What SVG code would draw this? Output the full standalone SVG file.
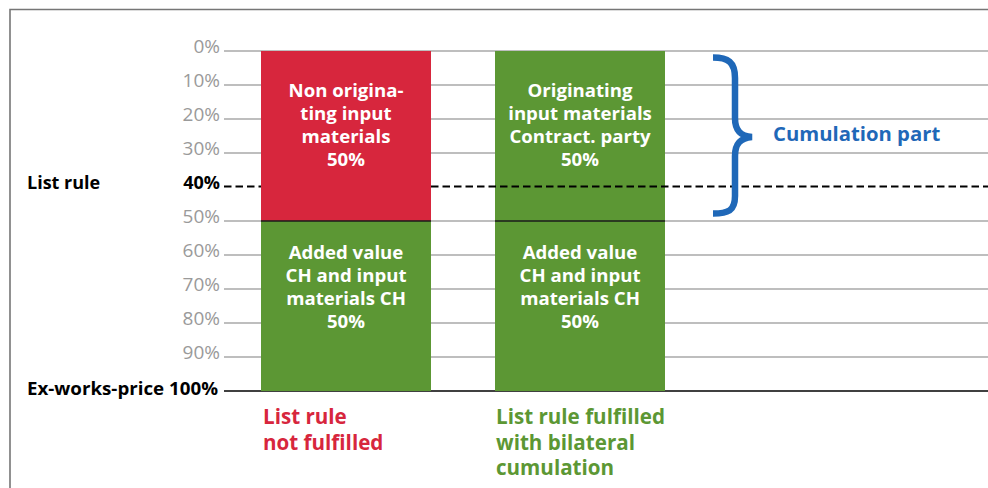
<svg xmlns="http://www.w3.org/2000/svg" width="988" height="488" viewBox="0 0 988 488">
<style>
text{font-family:"Open Sans","Liberation Sans",sans-serif}
.ax{font-size:19px;fill:#9a9a9a;text-anchor:end}
.axb{font-size:18px;font-weight:700;fill:#000}
.grid{stroke:#a8a8a8;stroke-width:1.4}
.bt{font-size:18.6px;font-weight:700;fill:#fff;text-anchor:middle}
.cap{font-size:20.6px;font-weight:700}
</style>
<rect width="988" height="488" fill="#fff"/>
<path d="M10,488 V9.5 H988" fill="none" stroke="#767676" stroke-width="1.6"/>
<g id="grid">
<line class="grid" x1="224" y1="51" x2="988" y2="51"/>
<line class="grid" x1="224" y1="85" x2="988" y2="85"/>
<line class="grid" x1="224" y1="119" x2="988" y2="119"/>
<line class="grid" x1="224" y1="153" x2="988" y2="153"/>
<line class="grid" x1="224" y1="221" x2="988" y2="221"/>
<line class="grid" x1="224" y1="255" x2="988" y2="255"/>
<line class="grid" x1="224" y1="289" x2="988" y2="289"/>
<line class="grid" x1="224" y1="323" x2="988" y2="323"/>
<line class="grid" x1="224" y1="357" x2="988" y2="357"/>
<line x1="224" y1="391" x2="988" y2="391" stroke="#000" stroke-width="1.6"/>
</g>
<g id="axis">
<text class="ax" x="220" y="53">0%</text>
<text class="ax" x="220" y="87">10%</text>
<text class="ax" x="220" y="121">20%</text>
<text class="ax" x="220" y="155">30%</text>
<text class="axb" x="220" y="189" text-anchor="end">40%</text>
<text class="ax" x="220" y="223">50%</text>
<text class="ax" x="220" y="257">60%</text>
<text class="ax" x="220" y="291">70%</text>
<text class="ax" x="220" y="325">80%</text>
<text class="ax" x="220" y="359">90%</text>
<text class="axb" x="27" y="189">List rule</text>
<text class="axb" x="27" y="395" textLength="191" lengthAdjust="spacingAndGlyphs">Ex-works-price 100%</text>
</g>
<g id="bar2">
<rect x="495" y="51" width="170" height="170" fill="#5c9734"/>
<rect x="495" y="221" width="170" height="170" fill="#5c9734"/>
<line x1="495" y1="221" x2="665" y2="221" stroke="#1a1a1a" stroke-width="1.4"/>
<text class="bt"><tspan x="580" y="97">Originating</tspan><tspan x="580" y="120">input materials</tspan><tspan x="580" y="143">Contract. party</tspan><tspan x="580" y="166">50%</tspan></text>
<text class="bt"><tspan x="580" y="259">Added value</tspan><tspan x="580" y="282">CH and input</tspan><tspan x="580" y="305">materials CH</tspan><tspan x="580" y="328">50%</tspan></text>
</g>
<g id="listrule">
<line x1="224" y1="186.5" x2="988" y2="186.5" stroke="#000" stroke-width="2" stroke-dasharray="7.5 4"/>
</g>
<g id="bar1">
<rect x="261" y="51" width="170" height="170" fill="#d7263d"/>
<rect x="261" y="221" width="170" height="170" fill="#5c9734"/>
<line x1="261" y1="221" x2="431" y2="221" stroke="#1a1a1a" stroke-width="1.4"/>
<text class="bt"><tspan x="346" y="97">Non origina-</tspan><tspan x="346" y="120">ting input</tspan><tspan x="346" y="143">materials</tspan><tspan x="346" y="166">50%</tspan></text>
<text class="bt"><tspan x="346" y="259">Added value</tspan><tspan x="346" y="282">CH and input</tspan><tspan x="346" y="305">materials CH</tspan><tspan x="346" y="328">50%</tspan></text>
</g>
<g id="brace">
<path d="M713,57.5 C728,57.5 735,62 735,78 L735,118 C735,130 740,136 752,137 C740,138 735,144 735,156 L735,196 C735,211 728,213.5 713,213.5" fill="none" stroke="#1f68b8" stroke-width="6.5"/>
<text x="773" y="141" font-size="20.3" font-weight="700" fill="#1f68b8">Cumulation part</text>
</g>
<g id="connectors"/>
<g id="captions">
<text class="cap" fill="#d7263d"><tspan x="263" y="424">List rule</tspan><tspan x="263" y="450">not fulfilled</tspan></text>
<text class="cap" fill="#5c9734"><tspan x="496" y="424">List rule fulfilled</tspan><tspan x="496" y="449.5">with bilateral</tspan><tspan x="496" y="475">cumulation</tspan></text>
</g>
</svg>
